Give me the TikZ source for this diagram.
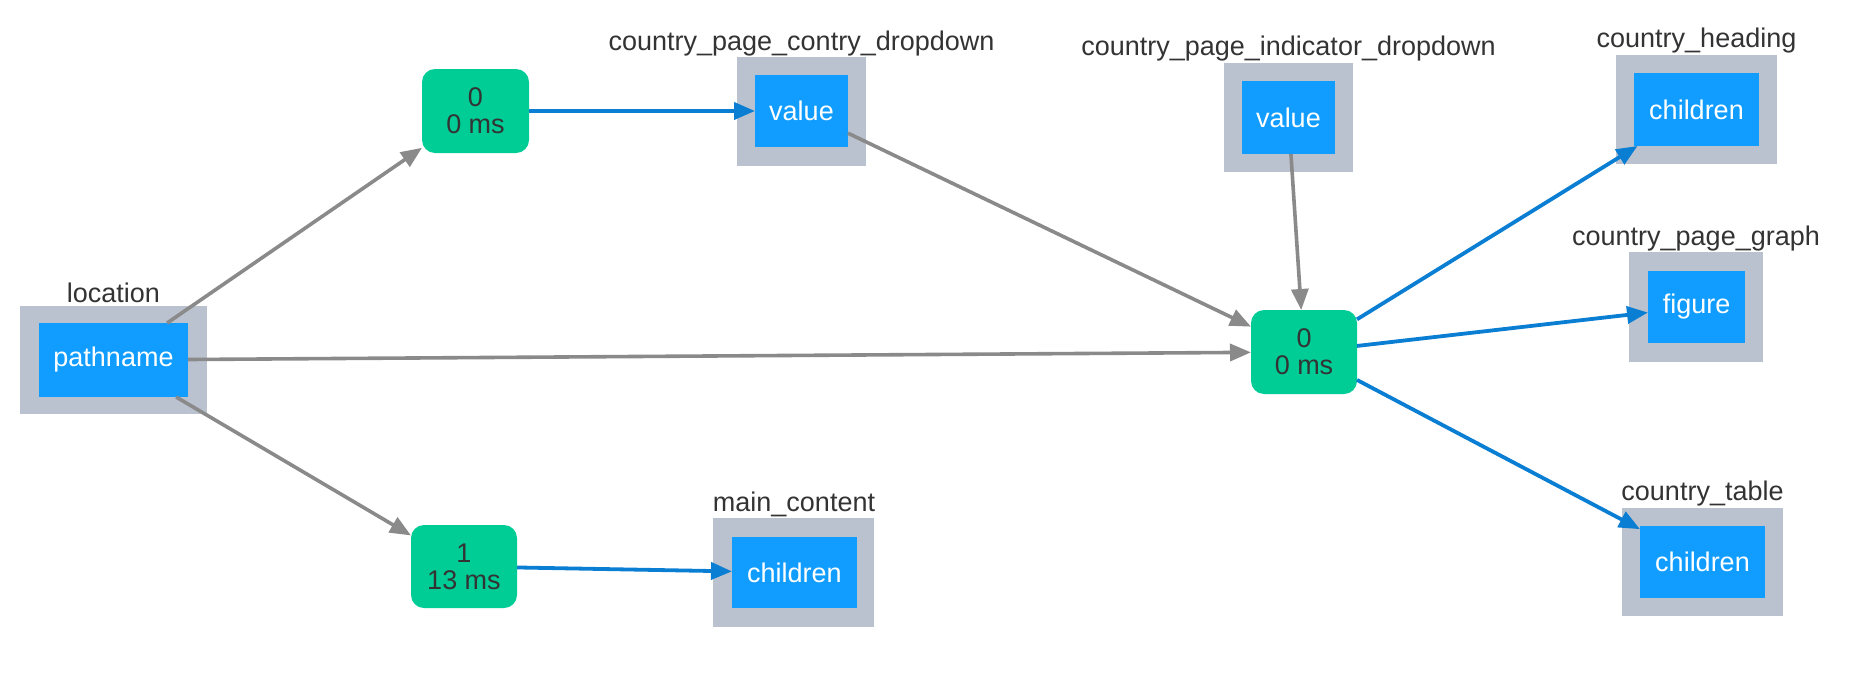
\documentclass[tikz,border=0pt]{standalone}
\usepackage{fontspec}
\setmainfont{Liberation Sans}
\usetikzlibrary{arrows.meta}
\definecolor{txt}{HTML}{333333}
\definecolor{grn}{HTML}{00CC96}
\definecolor{blu}{HTML}{119DFF}
\definecolor{frame}{HTML}{BAC2CF}
\definecolor{garrow}{HTML}{8A8A8A}
\definecolor{barrow}{HTML}{0A7ED2}
\tikzset{
  every node/.style={font=\fontsize{27}{27}\selectfont, inner sep=0pt, outer sep=0pt},
  prop/.style={fill=blu, text=white, draw=none, rectangle},
  holder/.style={fill=frame, draw=none, rectangle},
  cb/.style={fill=grn, text=txt, rounded corners=13pt, align=center, minimum width=106pt, minimum height=84pt},
  lbl/.style={text=txt},
  gline/.style={draw=garrow, line width=3.6pt, -{Triangle[length=21pt,width=17pt]}},
  bline/.style={draw=barrow, line width=3.8pt, -{Triangle[length=21pt,width=17pt]}},
}
\begin{document}
\begin{tikzpicture}[x=1pt,y=-1pt]
\useasboundingbox (0,0) rectangle (1855,675);
% holders
\node[holder, minimum width=187pt, minimum height=108pt] (locH) at (113.5,360) {};
\node[holder, minimum width=129pt, minimum height=109pt] (cdH) at (801.5,111.5) {};
\node[holder, minimum width=129pt, minimum height=109pt] (idH) at (1288.5,117.5) {};
\node[holder, minimum width=161pt, minimum height=109pt] (hdH) at (1696.5,109.5) {};
\node[holder, minimum width=134pt, minimum height=110pt] (grH) at (1696,307) {};
\node[holder, minimum width=161pt, minimum height=108pt] (tbH) at (1702.5,562) {};
\node[holder, minimum width=161pt, minimum height=109pt] (mcH) at (793.5,572.5) {};
% properties
\node[prop, minimum width=149pt, minimum height=74pt] (loc) at (113.5,360) {pathname};
\node[prop, minimum width=93pt, minimum height=72pt] (cd) at (801.5,111) {value};
\node[prop, minimum width=93pt, minimum height=73pt] (id) at (1288.5,117.5) {value};
\node[prop, minimum width=125pt, minimum height=73pt] (hd) at (1696.5,109.5) {children};
\node[prop, minimum width=97pt, minimum height=72pt] (gr) at (1696.5,307) {figure};
\node[prop, minimum width=125pt, minimum height=72pt] (tb) at (1702.5,562) {children};
\node[prop, minimum width=125pt, minimum height=71pt] (mc) at (794.5,572.5) {children};
% labels
\node[lbl] (locL) at (113.5,293) {location};
\node[lbl] (cdL) at (801.5,44) {country\_page\_contry\_dropdown};
\node[lbl] (idL) at (1288.5,49) {country\_page\_indicator\_dropdown};
\node[lbl] (hdL) at (1696.5,41) {country\_heading};
\node[lbl] (grL) at (1696,239) {country\_page\_graph};
\node[lbl] (tbL) at (1702.5,494) {country\_table};
\node[lbl] (mcL) at (794,504) {main\_content};
% callbacks
\node[cb, minimum width=107pt] (g1) at (475.5,111) {0\\0 ms};
\node[cb] (g2) at (1304,352) {0\\0 ms};
\node[cb, minimum height=83pt] (g3) at (464,566.5) {1\\13 ms};
% edges
\draw[gline] (loc) -- (g1);
\draw[gline] (loc) -- (g2);
\draw[gline] (loc) -- (g3);
\draw[gline] (cd) -- (g2);
\draw[gline] (id) -- (g2);
\draw[bline] (g1) -- (cd);
\draw[bline] (g3) -- (mc);
\draw[bline] (g2) -- (hd);
\draw[bline] (g2) -- (gr);
\draw[bline] (g2) -- (tb);
\end{tikzpicture}
\end{document}
